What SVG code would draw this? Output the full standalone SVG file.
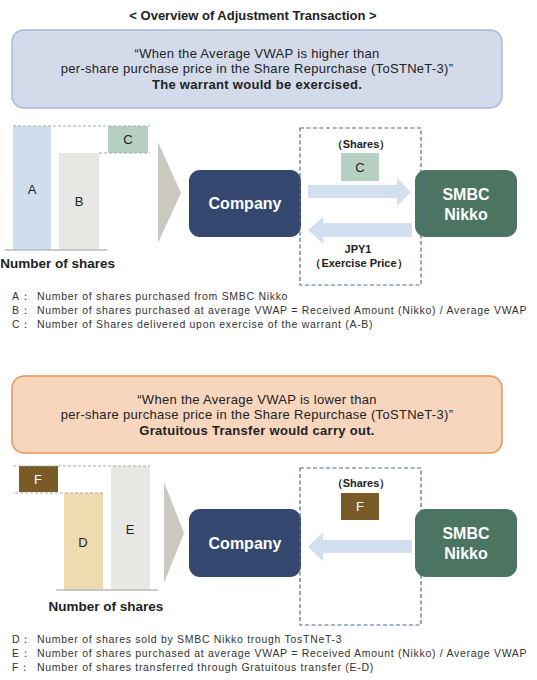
<svg xmlns="http://www.w3.org/2000/svg" width="537" height="680" viewBox="0 0 537 680">
<style>
  text { font-family: "Liberation Sans", Arial, sans-serif; fill: #222; }
  .title { font-size: 13px; font-weight: bold; }
  .hdr { font-size: 13px; text-anchor: middle; letter-spacing: 0.3px; }
  .b { font-weight: bold; }
  .node { font-size: 16px; font-weight: bold; fill: #fff; text-anchor: middle; }
  .lbl { font-size: 13px; text-anchor: middle; }
  .small { font-size: 11px; font-weight: bold; text-anchor: middle; }
  .leg { font-size: 10.5px; fill: #333; letter-spacing: 0.7px; }
  .axis { font-size: 13.5px; font-weight: bold; }
  .dash { stroke: #aaa; stroke-width: 1; stroke-dasharray: 3 2; fill: none; }
  .base { stroke: #bbb; stroke-width: 1.5; }
  .frame { fill: none; stroke: #4f6b96; stroke-width: 1.2; stroke-dasharray: 4 2.5; }
  .arrow { fill: #d1dff0; }
  .chev { fill: #cbc8be; }
</style>

<text class="title" x="253" y="20" text-anchor="middle">&lt; Overview of Adjustment Transaction &gt;</text>

<!-- Upper scenario -->
<g id="header-upper">
  <rect x="12" y="30" width="490" height="78" rx="12" fill="#d3dbeb" stroke="#a6b8d8" stroke-width="1.5"/>
  <text class="hdr" x="257" y="58">“When the Average VWAP is higher than</text>
  <text class="hdr" x="257" y="73">per-share purchase price in the Share Repurchase (ToSTNeT-3)”</text>
  <text class="hdr b" x="257" y="89">The warrant would be exercised.</text>
</g>

<g id="chart-upper">
  <rect x="13" y="126" width="38" height="124" fill="#cfdeee"/>
  <rect x="59" y="153" width="40" height="97" fill="#e8e7e3"/>
  <rect x="108" y="126" width="40" height="27" fill="#b5d0c2"/>
  <line class="dash" x1="13" y1="126" x2="150" y2="126"/>
  <line class="dash" x1="99" y1="153" x2="150" y2="153"/>
  <line class="base" x1="5" y1="250" x2="107" y2="250"/>
  <text class="lbl" x="32" y="194">A</text>
  <text class="lbl" x="79" y="206">B</text>
  <text class="lbl" x="128" y="144">C</text>
  <text class="axis" x="115" y="268" text-anchor="end">Number of shares</text>
  <polygon class="chev" points="158,142 181,193 158,243"/>
</g>

<g id="company-upper">
  <rect x="189" y="170" width="112" height="67" rx="11" fill="#33476f"/>
  <text class="node" x="245" y="209">Company</text>
</g>

<g id="smbc-upper">
  <rect x="415" y="170" width="102" height="67" rx="11" fill="#4b7462"/>
  <text class="node" x="466" y="200">SMBC</text>
  <text class="node" x="466" y="220">Nikko</text>
</g>

<g id="connectors-upper">
  <rect class="frame" x="300" y="128" width="121" height="157"/>
  <text class="small" x="361" y="148">（Shares）</text>
  <rect x="341" y="153" width="38" height="28" fill="#b5d0c2"/>
  <text class="lbl" x="360" y="172">C</text>
  <polygon class="arrow" points="308,185 397,185 397,178 411,192 397,206 397,198 308,198"/>
  <polygon class="arrow" points="412,223 323,223 323,217 308,230 323,244 323,237 412,237"/>
  <text class="small" x="358" y="253">JPY1</text>
  <text class="small" x="359" y="267" font-weight="normal">（Exercise Price）</text>
</g>

<g id="legend-upper">
  <text class="leg" y="300"><tspan x="12">A：</tspan><tspan x="37">Number of shares purchased from SMBC Nikko</tspan></text>
  <text class="leg" y="314"><tspan x="12">B：</tspan><tspan x="37">Number of shares purchased at average VWAP = Received Amount (Nikko) / Average VWAP</tspan></text>
  <text class="leg" y="328"><tspan x="12">C：</tspan><tspan x="37">Number of Shares delivered upon exercise of the warrant (A-B)</tspan></text>
</g>

<!-- Lower scenario -->
<g id="header-lower">
  <rect x="12" y="376" width="490" height="77" rx="12" fill="#f8d6be" stroke="#e8955a" stroke-width="1.5"/>
  <text class="hdr" x="257" y="404">“When the Average VWAP is lower than</text>
  <text class="hdr" x="257" y="419">per-share purchase price in the Share Repurchase (ToSTNeT-3)”</text>
  <text class="hdr b" x="257" y="435">Gratuitous Transfer would carry out.</text>
</g>

<g id="chart-lower">
  <rect x="19" y="466" width="39" height="26" fill="#7a5a26"/>
  <rect x="64" y="493" width="39" height="97" fill="#eedcb0"/>
  <rect x="111" y="466" width="39" height="124" fill="#e8e7e3"/>
  <line class="dash" x1="13" y1="466" x2="150" y2="466"/>
  <line class="dash" x1="15" y1="493" x2="103" y2="493"/>
  <line class="base" x1="56" y1="590" x2="158" y2="590"/>
  <text class="lbl" x="38" y="484" style="fill:#fff">F</text>
  <text class="lbl" x="83" y="547">D</text>
  <text class="lbl" x="130" y="534">E</text>
  <text class="axis" x="106" y="611" text-anchor="middle">Number of shares</text>
  <polygon class="chev" points="164,482 184,533 164,583"/>
</g>

<g id="company-lower">
  <rect x="189" y="509" width="112" height="68" rx="11" fill="#33476f"/>
  <text class="node" x="245" y="549">Company</text>
</g>

<g id="smbc-lower">
  <rect x="415" y="509" width="102" height="68" rx="11" fill="#4b7462"/>
  <text class="node" x="466" y="539">SMBC</text>
  <text class="node" x="466" y="559">Nikko</text>
</g>

<g id="connectors-lower">
  <rect class="frame" x="300" y="468" width="121" height="157"/>
  <text class="small" x="361" y="487">（Shares）</text>
  <rect x="341" y="493" width="38" height="27" fill="#7a5a26"/>
  <text class="lbl" x="360" y="511" style="fill:#fff">F</text>
  <polygon class="arrow" points="412,540 323,540 323,532 308,547 323,561 323,553 412,553"/>
</g>

<g id="legend-lower">
  <text class="leg" y="643"><tspan x="12">D：</tspan><tspan x="37">Number of shares sold by SMBC Nikko trough TosTNeT-3</tspan></text>
  <text class="leg" y="657"><tspan x="12">E：</tspan><tspan x="37">Number of shares purchased at average VWAP = Received Amount (Nikko) / Average VWAP</tspan></text>
  <text class="leg" y="671"><tspan x="12">F：</tspan><tspan x="37">Number of shares transferred through Gratuitous transfer (E-D)</tspan></text>
</g>
</svg>
